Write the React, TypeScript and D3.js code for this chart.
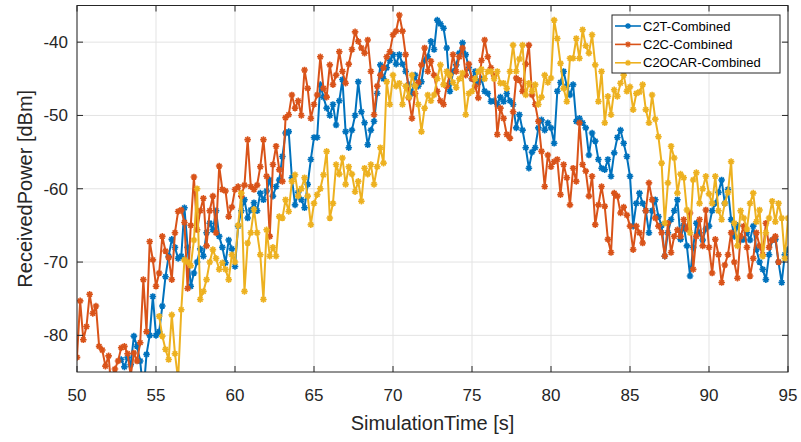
import React from "react";
import * as d3 from "d3";

const STEP = 0.2;
const c2tStart = 52.8;
const c2tValues = [
  -83.3, -84.3, -83, -84, -80.1, -81.5, -83.5, -88, -82.6, -80, -74.7, -80, -79.5, -76, -72, -69.2, -66.9, -68, -69.5, -69.2,
  -62.6, -68, -73.3, -71.5, -70, -68.2, -69.2, -66, -64.7, -65.6, -63, -66.5, -68, -70.1, -67, -68.2, -70.6, -65.1, -63, -61.5,
  -64, -62.9, -61.9, -63, -60.6, -61.5, -60.3, -58.8, -61, -59.7, -58.8, -55.6, -52.4, -52.2, -58.5, -62.2, -60.5, -61.5, -62.6, -59.4,
  -56, -53, -53, -45.8, -47.5, -49, -50, -48.5, -51.3, -48, -45.1, -52.2, -54.4, -52, -50, -45.4, -49.5, -51, -54, -52,
  -50.8, -47, -43.1, -45, -43.5, -42.5, -41.7, -43, -41.7, -43, -44, -45.8, -47, -44.5, -46, -45.4, -42.5, -42, -39.9, -41,
  -37, -37.5, -38.1, -40.8, -46.7, -44, -43.1, -41.5, -40.1, -41.7, -43.5, -45, -44, -45.5, -45, -46.7, -47, -48.1, -48, -48.5,
  -47.5, -48.1, -47, -48, -48.5, -51.7, -49.9, -52, -54.4, -57.2, -55, -54.4, -51.7, -50.6, -52, -51, -51.7, -53.8, -46.7, -45.5,
  -44, -46, -47.2, -45.8, -50.8, -50.4, -51, -51.7, -55.4, -52.4, -53.5, -56, -57.2, -57.4, -56, -58.3, -55.1, -53, -52, -53.8,
  -55.6, -58.3, -65.1, -62, -60.6, -62, -63, -66, -63, -61.5, -63.8, -65, -69.2, -66, -64.2, -63, -61.5, -66.9, -65, -67.8,
  -71.9, -68, -64.7, -66, -67, -65.5, -65.1, -63, -62, -60.5, -58.8, -62, -60.1, -64.2, -66.5, -65, -67, -66.9, -66, -67,
  -65.1, -68.3, -70, -71, -72.4, -69, -67, -66.9, -70, -72.8, -69, -68.3
];

const c2cStart = 50.0;
const c2cValues = [
  -83, -75.3, -80.6, -78.8, -74.4, -77, -76, -81.5, -82, -84.2, -82.8, -88, -84.6, -83.5, -81.7, -81.5, -82.5, -85.5, -82.4, -83.5,
  -81, -72.4, -79.5, -67.2, -69.7, -73.3, -71.5, -66.5, -68.5, -69.4, -72.4, -66, -63.1, -62.9, -64.6, -73.6, -65, -58.4, -65.6, -63,
  -61.3, -67.8, -63, -61, -66, -56.9, -60.1, -60.3, -63.8, -62.5, -60.1, -59.7, -61, -59.5, -53.3, -59.7, -60.1, -59.5, -57, -53.3,
  -58.3, -66.5, -56.7, -54.2, -57.4, -59, -50.3, -49.9, -47.2, -49, -48, -50, -43.8, -46.3, -50.4, -48.5, -47.2, -42, -46.3, -47.5,
  -43.1, -45.8, -44.5, -41.3, -44, -45.6, -43, -41, -38.6, -39.9, -40.8, -41.5, -39.7, -44, -49.9, -46, -44.5, -43.5, -42, -41.3,
  -39, -38.5, -36.3, -38.5, -41.7, -47.6, -50.4, -47, -45.5, -43.1, -40.8, -44, -42.6, -44.5, -46.7, -48, -48.5, -46, -44.5, -41.7,
  -44, -42, -40.8, -44.5, -43, -45, -46, -47.6, -42.5, -39.7, -42, -43.5, -44.6, -52.6, -49, -50.4, -52.6, -53.1, -49.5, -44.9,
  -45.2, -46.7, -43, -40.4, -47.2, -48.5, -50.8, -54.9, -59.7, -55.4, -57, -56.3, -56, -60.8, -56.7, -58.5, -62.2, -57.2, -59, -51,
  -56.7, -57.6, -61, -58.3, -64.9, -62.2, -59.7, -62.4, -66.9, -68.7, -60.6, -61, -63.3, -62.5, -63.6, -65.1, -68.3, -65.1, -66, -67.4,
  -63, -59.2, -61.5, -64, -65.1, -66, -69.2, -64.7, -68.7, -66.5, -65.6, -66.5, -64.2, -65.5, -63.3, -71, -66.5, -64.2, -67.8, -62.9,
  -68, -71.5, -66.9, -69, -72.8, -70.4, -69, -66, -70, -72.2, -66.5, -65.1, -68, -71.9, -69.5, -66, -67.8, -69, -64.7, -68,
  -67, -66.5, -70
];

const c2ocarStart = 55.2;
const c2ocarValues = [
  -77.4, -80.1, -81.9, -83.3, -77.2, -82.5, -86, -76.5, -69.7, -70, -70.5, -67, -60, -75.1, -74, -72.4, -70, -68.3, -69.5, -71,
  -70.1, -71, -72.4, -69, -70, -65, -60.6, -74, -67.4, -66, -62.8, -66, -69, -75.1, -65.6, -69.2, -68, -69.2, -63.8, -64,
  -61.5, -63.1, -59, -58.1, -61, -60, -58.5, -61, -64.9, -62, -60.8, -60, -58.1, -54.9, -64, -62, -56.7, -58, -55.8, -59.4,
  -57, -58, -60.4, -59, -61.7, -57.2, -58, -56.7, -59.4, -57, -54.4, -56.5, -45.4, -48.5, -44.5, -46, -45.6, -48.5, -46, -47.5,
  -44.5, -46, -48.5, -52.2, -49, -47.2, -48, -47.2, -45, -43.1, -45.8, -44, -44.5, -45.5, -46.2, -45, -44.2, -49.9, -47, -46.7,
  -45, -44, -43.7, -45, -44, -44, -45, -44, -45.6, -45.6, -46.3, -44, -40.4, -44, -42.3, -40.4, -47.2, -45.6, -46.7, -45.8,
  -48.5, -47.5, -44.5, -45.5, -44.9, -37, -39.5, -42.9, -46.3, -48.1, -42.2, -42.2, -39.5, -42.2, -38.3, -40.5, -41.5, -39, -43.1, -48.1,
  -44, -51, -47.4, -49.9, -46.5, -47.4, -45.6, -44.5, -46.7, -46.1, -49.2, -47, -46.8, -45.8, -49.2, -51, -47.2, -50.5, -52.9, -56.5,
  -64.7, -59.2, -54.2, -55.8, -60.6, -58, -58.5, -62.9, -66, -58.8, -57.8, -62, -60, -58.3, -60.7, -62, -58.3, -63, -64.2, -62,
  -60.5, -56.3, -64.7, -67.8, -63, -64, -65.5, -62, -60.6, -64.5, -62.9, -69.2, -66, -64, -61.7, -64.5, -62, -64, -69.5, -64
];

const seriesNames = ["C2T-Combined", "C2C-Combined", "C2OCAR-Combined"];
const seriesColors = ["#0072BD", "#D95319", "#EDB120"];
const xTicks = [50, 55, 60, 65, 70, 75, 80, 85, 90, 95];
const yTicks = [-80, -70, -60, -50, -40];

const W = 801, H = 442;
const M = { left: 77, right: 788, top: 5.5, bottom: 372 };
const FONT = "'Liberation Sans', Arial, Helvetica, sans-serif";

function toPoints(start: number, vals: number[]) {
  return vals.map((v, i) => ({ t: start + i * STEP, v }));
}

function asterisk(x: number, y: number, r: number) {
  const d = r * 0.707;
  return `M${x - r},${y}L${x + r},${y}M${x},${y - r}L${x},${y + r}M${x - d},${y - d}L${x + d},${y + d}M${x - d},${y + d}L${x + d},${y - d}`;
}

export default function App() {
  const x = d3.scaleLinear().domain([50, 95]).range([M.left, M.right]);
  const y = d3.scaleLinear().domain([-85, -35]).range([M.bottom, M.top]);
  const data = [
    toPoints(c2tStart, c2tValues),
    toPoints(c2cStart, c2cValues),
    toPoints(c2ocarStart, c2ocarValues),
  ];
  const line = d3.line<{ t: number; v: number }>().x((d) => x(d.t)).y((d) => y(d.v));
  const axisColor = "#262626";
  const tickLen = 6;

  return (
    <svg width={W} height={H} style={{ display: "block", position: "absolute", left: 0, top: 0 }} fontFamily={FONT}>
      <rect x={0} y={0} width={W} height={H} fill="#fff" />
      <defs>
        <clipPath id="plotclip">
          <rect x={M.left} y={M.top} width={M.right - M.left} height={M.bottom - M.top} />
        </clipPath>
      </defs>
      {xTicks.map((t) => (
        <line key={"gx" + t} x1={x(t)} x2={x(t)} y1={M.top} y2={M.bottom} stroke="#e3e3e3" strokeWidth={1} />
      ))}
      {yTicks.map((t) => (
        <line key={"gy" + t} x1={M.left} x2={M.right} y1={y(t)} y2={y(t)} stroke="#e3e3e3" strokeWidth={1} />
      ))}
      <g clipPath="url(#plotclip)">
        {data.map((pts, si) => (
          <g key={si}>
            <path d={line(pts) || ""} fill="none" stroke={seriesColors[si]} strokeWidth={2} strokeLinejoin="round" />
            <path
              d={pts.map((p) => asterisk(x(p.t), y(p.v), 3.3)).join("")}
              fill="none"
              stroke={seriesColors[si]}
              strokeWidth={1.6}
            />
          </g>
        ))}
      </g>
      <rect x={M.left} y={M.top} width={M.right - M.left} height={M.bottom - M.top} fill="none" stroke={axisColor} strokeWidth={1} />
      {xTicks.map((t) => (
        <g key={"tx" + t}>
          <line x1={x(t)} x2={x(t)} y1={M.bottom} y2={M.bottom - tickLen} stroke={axisColor} />
          <line x1={x(t)} x2={x(t)} y1={M.top} y2={M.top + tickLen} stroke={axisColor} />
          <text x={x(t)} y={401} textAnchor="middle" fontSize={17} fill={axisColor}>{t}</text>
        </g>
      ))}
      {yTicks.map((t) => (
        <g key={"ty" + t}>
          <line x1={M.left} x2={M.left + tickLen} y1={y(t)} y2={y(t)} stroke={axisColor} />
          <line x1={M.right} x2={M.right - tickLen} y1={y(t)} y2={y(t)} stroke={axisColor} />
          <text x={68} y={y(t) + 6} textAnchor="end" fontSize={17} fill={axisColor}>{t}</text>
        </g>
      ))}
      <text x={(M.left + M.right) / 2} y={430} textAnchor="middle" fontSize={20} fill={axisColor}>SimulationTime [s]</text>
      <text transform={`translate(32,${(M.top + M.bottom) / 2}) rotate(-90)`} textAnchor="middle" fontSize={20} fill={axisColor}>ReceivedPower [dBm]</text>
      <g>
        <rect x={612} y={15} width={168} height={58} fill="#fff" stroke={axisColor} strokeWidth={1} />
        {seriesNames.map((n, i) => {
          const cy = 26 + i * 18.4;
          return (
            <g key={n}>
              <line x1={615} x2={641} y1={cy} y2={cy} stroke={seriesColors[i]} strokeWidth={1.6} />
              <path d={asterisk(628, cy, 3)} stroke={seriesColors[i]} strokeWidth={1.3} fill="none" />
              <text x={643} y={cy + 4.5} fontSize={13} fill="#000">{n}</text>
            </g>
          );
        })}
      </g>
    </svg>
  );
}
